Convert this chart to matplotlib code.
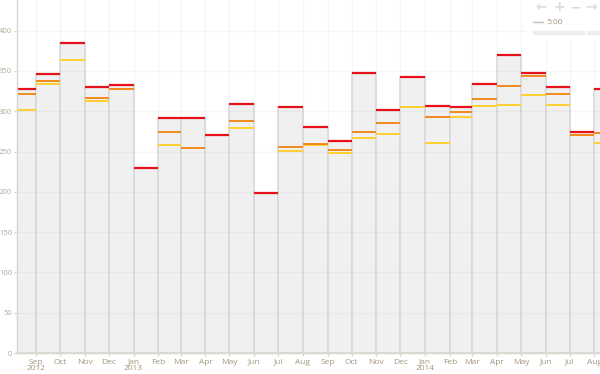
import numpy as np
import pandas as pd
import matplotlib
matplotlib.use('Agg')
import matplotlib.pyplot as plt
import matplotlib.dates as mdates
from matplotlib.patches import Rectangle
from matplotlib.lines import Line2D

# Inizio di ogni mese (l'ultimo serve solo come bordo destro)
mesi = pd.date_range('2012-08-01', '2014-09-01', freq='MS')

# Valori (ago 2012 - ago 2014)
rosso = [327, 346, 385, 330, 332, 229, 292, 292, 271, 309, 198, 305, 281,
         263, 347, 302, 342, 307, 305, 334, 370, 348, 330, 274, 327]
arancio = [321, 338, 385, 316, 328, 229, 274, 254, 271, 288, 198, 256, 259,
           252, 274, 285, 342, 293, 299, 315, 331, 344, 321, 270, 273]
giallo = [302, 334, 363, 313, 327, 229, 258, 254, 271, 279, 198, 251, 258,
          248, 267, 272, 305, 261, 293, 306, 308, 320, 308, 270, 261]

etichette = ['Sep\n2012', 'Oct', 'Nov', 'Dec', 'Jan\n2013', 'Feb', 'Mar', 'Apr',
             'May', 'Jun', 'Jul', 'Aug', 'Sep', 'Oct', 'Nov', 'Dec', 'Jan\n2014',
             'Feb', 'Mar', 'Apr', 'May', 'Jun', 'Jul', 'Aug']

plt.rcParams['font.family'] = ['Open Sans', 'DejaVu Sans']

x = mdates.date2num(mesi.to_pydatetime())
x0, x1 = x[:-1], x[1:]

fig = plt.figure(figsize=(6, 3.74), dpi=100)
ax = fig.add_axes([17/600, 21/374, 583/600, 353/374])

# Barre grigie fino al valore massimo
ax.bar(x0, rosso, width=x1 - x0, align='edge', color='#f0f0f0',
       edgecolor='#d8d8d8', linewidth=1.2, zorder=2)

# Griglia leggera sopra le barre
for v in range(50, 450, 50):
    ax.axhline(v, color='black', alpha=0.035, lw=1, zorder=2.5)
for v in x[1:-1]:
    ax.axvline(v, color='black', alpha=0.035, lw=1, zorder=1)

# Linee orizzontali colorate
ax.hlines(giallo, x0, x1, colors='#ffd030', lw=1.4, zorder=3)
ax.hlines(arancio, x0, x1, colors='#f28a1c', lw=1.4, zorder=4)
ax.hlines(rosso, x0, x1, colors='#e5121b', lw=1.6, zorder=5)

ax.set_xlim(mdates.date2num(pd.Timestamp('2012-08-08')),
            mdates.date2num(pd.Timestamp('2014-08-08')))
ax.set_ylim(0, 438)
ax.set_yticks(range(0, 450, 50))
ax.set_xticks(x[1:-1])
ax.set_xticklabels(etichette, linespacing=0.95)

for s in ['top', 'right']:
    ax.spines[s].set_visible(False)
for s in ['left', 'bottom']:
    ax.spines[s].set_color('#dcd5cb')
    ax.spines[s].set_linewidth(1)
    ax.spines[s].set_zorder(6)
ax.tick_params(axis='both', labelsize=5.5, length=2.5, width=1, color='#dcd5cb', pad=1)
ax.tick_params(axis='x', labelcolor='#a3967f', labelsize=6, pad=1.5)
ax.tick_params(axis='y', labelcolor='#b3a897')

# Controlli in alto a destra
fig.add_artist(Rectangle((527/600, 1 - 38/374), 73/600, 38/374, color='white',
                         transform=fig.transFigure, zorder=5))
for px, s in [(541, '\u2190'), (559, '+'), (575, '\u2212'), (591, '\u2192')]:
    fig.text(px/600, 1 - 7/374, s, ha='center', va='center', fontsize=10,
             fontweight='bold', color='#dcdcdc', family='DejaVu Sans', zorder=6)
fig.add_artist(Line2D([533/600, 543/600], [1 - 22/374, 1 - 22/374], color='#c0c0c0',
                      lw=1, transform=fig.transFigure, zorder=6))
fig.text(546/600, 1 - 22/374, '5:00', ha='left', va='center', fontsize=6,
         color='#a3967f', zorder=6)
fig.add_artist(Rectangle((533/600, 1 - 34/374), 51/600, 3/374, color='#eeeeee',
                         transform=fig.transFigure, zorder=6))
fig.add_artist(Rectangle((587/600, 1 - 34/374), 13/600, 3/374, color='#eeeeee',
                         transform=fig.transFigure, zorder=6))

plt.savefig('out.png', dpi=100)
